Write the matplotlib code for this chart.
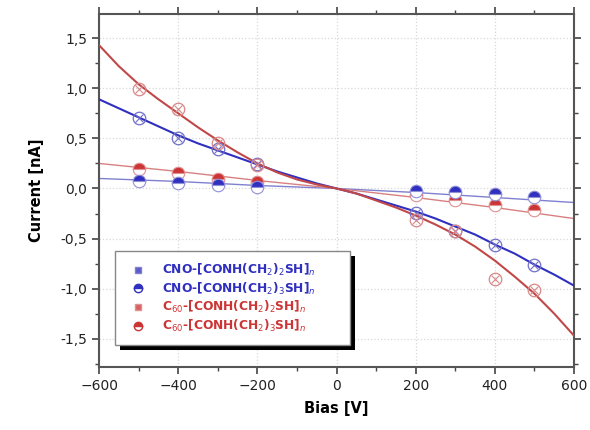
# I-V curves of CNO / C60 thiol films, recreated from the reference image
import numpy as np
import matplotlib as mpl
mpl.use('Agg')
import matplotlib.pyplot as plt
import matplotlib.patches as mpatches
from matplotlib.lines import Line2D
from matplotlib.ticker import FuncFormatter, MultipleLocator

# measured bias points
BIAS = [-500, -400, -300, -200, 200, 300, 400, 500]

# CNO series (crossed circles / squares in legend)
cno_cross = [0.70, 0.50, 0.39, 0.24, -0.24, -0.42, -0.56, -0.76]
cno_half = [0.07, 0.05, 0.03, 0.01, -0.03, -0.04, -0.06, -0.08]
# C60 series
c60_cross = [0.99, 0.79, 0.45, 0.23, -0.31, -0.42, -0.90, -1.01]
c60_half = [0.19, 0.15, 0.09, 0.06, -0.07, -0.11, -0.16, -0.21]

# fit curves
FIT_BIAS = [-600, -550, -500, -450, -400, -350, -300, -250, -200, -150, -100, -50, 0,
            50, 100, 150, 200, 250, 300, 350, 400, 450, 500, 550, 600]
cno_cross_fit = [0.89, 0.80, 0.71, 0.62, 0.53, 0.45, 0.38, 0.31, 0.24, 0.17, 0.11, 0.05, 0.0,
                 -0.05, -0.11, -0.17, -0.23, -0.30, -0.38, -0.46, -0.56, -0.65, -0.76, -0.86, -0.97]
c60_cross_fit = [1.43, 1.22, 1.04, 0.89, 0.75, 0.61, 0.48, 0.36, 0.25, 0.16, 0.09, 0.04, 0.0,
                 -0.05, -0.12, -0.19, -0.27, -0.36, -0.46, -0.58, -0.72, -0.88, -1.05, -1.25, -1.47]
WEAK_BIAS = [-600, -400, -200, 0, 200, 400, 600]
cno_half_fit = [0.10, 0.07, 0.03, 0.0, -0.04, -0.09, -0.14]
c60_half_fit = [0.25, 0.17, 0.08, 0.0, -0.09, -0.19, -0.30]

labels = ['CNO-[CONH(CH$_2$)$_2$SH]$_n$',
          'CNO-[CONH(CH$_2$)$_3$SH]$_n$',
          'C$_{60}$-[CONH(CH$_2$)$_2$SH]$_n$',
          'C$_{60}$-[CONH(CH$_2$)$_3$SH]$_n$']

BLUE = '#2f2fc0'
RED = '#cc3535'
BLUE_LIGHT = '#7070c8'
RED_LIGHT = '#d88888'

fig = plt.figure(figsize=(5.9, 4.3), dpi=100)
ax = fig.add_axes([0.168, 0.147, 0.805, 0.82])

# fits
ax.plot(WEAK_BIAS, cno_half_fit, color='#8080d0', lw=1.0, zorder=2)
ax.plot(WEAK_BIAS, c60_half_fit, color='#d88080', lw=1.0, zorder=2)
ax.plot(FIT_BIAS, cno_cross_fit, color=BLUE, lw=1.5, zorder=3)
ax.plot(FIT_BIAS, c60_cross_fit, color='#c04848', lw=1.5, zorder=3)

# crossed circles
ax.plot(BIAS, cno_cross, ls='none', marker='o', ms=9, mfc='none', mec=BLUE_LIGHT, mew=0.9, zorder=4)
ax.plot(BIAS, cno_cross, ls='none', marker='x', ms=6, mec=BLUE_LIGHT, mew=0.8, zorder=4)
ax.plot(BIAS, c60_cross, ls='none', marker='o', ms=9, mfc='none', mec=RED_LIGHT, mew=0.9, zorder=4)
ax.plot(BIAS, c60_cross, ls='none', marker='x', ms=6, mec=RED_LIGHT, mew=0.8, zorder=4)

# half-filled circles
ax.plot(BIAS, c60_half, ls='none', marker='o', ms=9, fillstyle='top', mfc=RED,
        markerfacecoloralt='white', mec='#e09090', mew=0.8, zorder=5)
ax.plot(BIAS, cno_half, ls='none', marker='o', ms=9, fillstyle='top', mfc=BLUE,
        markerfacecoloralt='white', mec='#9090d8', mew=0.8, zorder=5)

ax.set_xlim(-600, 600)
ax.set_ylim(-1.78, 1.74)
ax.xaxis.set_major_locator(MultipleLocator(200))
ax.xaxis.set_minor_locator(MultipleLocator(100))
ax.yaxis.set_major_locator(MultipleLocator(0.5))
ax.yaxis.set_minor_locator(MultipleLocator(0.25))
ax.yaxis.set_major_formatter(FuncFormatter(lambda v, p: ('%.1f' % v).replace('.', ',')))
ax.grid(True, which='major', color='#d8d8d8', ls=':', lw=0.9)
ax.set_axisbelow(True)

for s in ax.spines.values():
    s.set_color('#555555')
    s.set_linewidth(1.5)
ax.tick_params(which='both', direction='out', colors='#444444', labelsize=10)
ax.tick_params(which='major', length=5, width=1.2)
ax.tick_params(which='minor', length=3, width=1.0)
ax.tick_params(axis='both', which='both', top=True, right=True)
for t in ax.get_xticklabels() + ax.get_yticklabels():
    t.set_color('#222222')

ax.set_xlabel('Bias [V]', fontsize=10.5, fontweight='bold', labelpad=6)
ax.set_ylabel('Current [nA]', fontsize=10.5, fontweight='bold', labelpad=12)

handles = [
    Line2D([], [], ls='none', marker='s', ms=5, mfc='#5a5ac8', mec='#8080d0'),
    Line2D([], [], ls='none', marker='o', ms=6, fillstyle='top', mfc=BLUE,
           markerfacecoloralt='white', mec=BLUE),
    Line2D([], [], ls='none', marker='s', ms=5, mfc='#d86060', mec='#e09090'),
    Line2D([], [], ls='none', marker='o', ms=6, fillstyle='top', mfc=RED,
           markerfacecoloralt='white', mec=RED),
]
leg = ax.legend(handles, labels, loc='lower left', bbox_to_anchor=(0.034, 0.062, 0.495, 0.2),
                mode='expand', borderaxespad=0, fancybox=False, edgecolor='#888888',
                framealpha=1, prop={'size': 8.8, 'weight': 'bold'}, handletextpad=0.9,
                borderpad=0.9, labelspacing=0.2, handlelength=2.0)
leg.set_zorder(10)
for txt, c in zip(leg.get_texts(), [BLUE, BLUE, RED, RED]):
    txt.set_color(c)

# thick black drop shadow under the legend box
fig.canvas.draw()
bb = leg.get_window_extent()
shadow = mpatches.Rectangle((bb.x0 + 5, bb.y0 - 5), bb.width, bb.height, transform=None,
                            facecolor='black', edgecolor='none', zorder=9)
ax.add_artist(shadow)

fig.savefig('out.png', dpi=100)
